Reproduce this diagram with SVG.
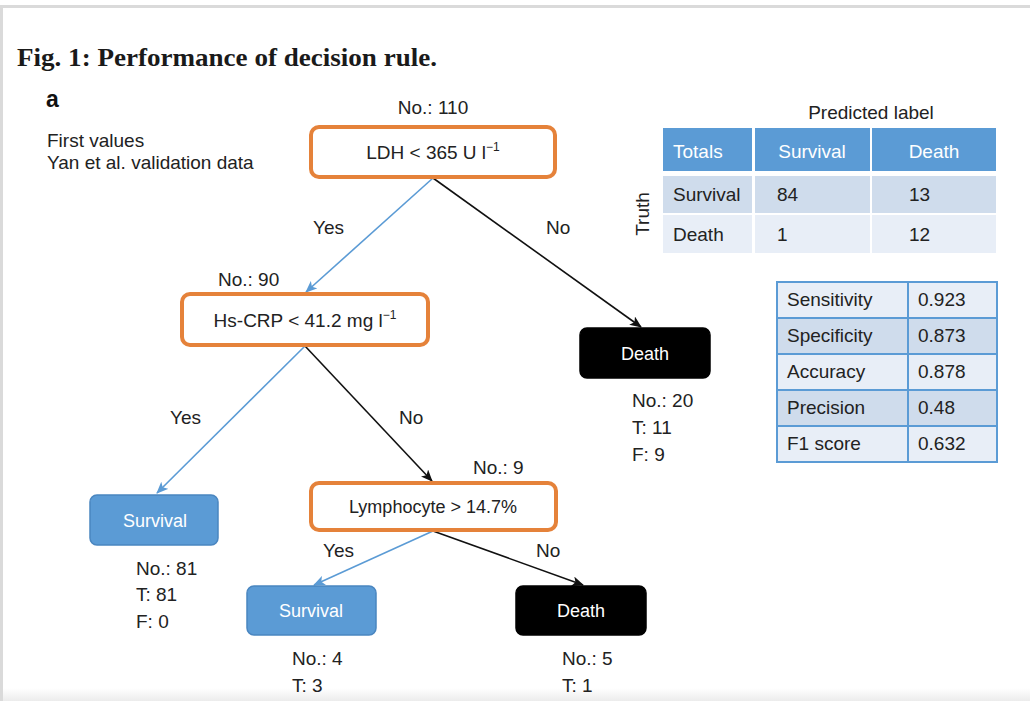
<svg xmlns="http://www.w3.org/2000/svg" width="1030" height="701" viewBox="0 0 1030 701">
  <style>
    text { font-family: "Liberation Sans", Arial, sans-serif; font-size: 19px; fill: #222; }
    .title { font-family: "Liberation Serif", "DejaVu Serif", serif; font-weight: bold; font-size: 26px; fill: #1a1a1a; }
    .panel { font-weight: bold; font-size: 23px; fill: #111; }
    .mid { text-anchor: middle; }
    .light { fill: #fff; }
    .small { font-size: 18px; }
    .rule { fill: #fff; stroke: #E5823A; stroke-width: 4; }
    .surv { fill: #5B9BD5; stroke: #4A86C0; stroke-width: 1.5; }
    .death { fill: #000; stroke: #000; stroke-width: 1.5; }
    .yes { stroke: #5B9BD5; stroke-width: 1.6; fill: none; marker-end: url(#arrBlue); }
    .no { stroke: #111; stroke-width: 1.6; fill: none; marker-end: url(#arrBlack); }
    .hdr { fill: #5B9BD5; }
    .rowA { fill: #CFDCEC; }
    .rowB { fill: #E8EEF7; }
  </style>
  <defs>
    <marker id="arrBlue" viewBox="0 0 12 10" refX="11" refY="5" markerWidth="12" markerHeight="10" markerUnits="userSpaceOnUse" orient="auto">
      <path d="M0,0 L12,5 L0,10 L3,5 Z" fill="#5B9BD5"/>
    </marker>
    <marker id="arrBlack" viewBox="0 0 12 10" refX="11" refY="5" markerWidth="12" markerHeight="10" markerUnits="userSpaceOnUse" orient="auto">
      <path d="M0,0 L12,5 L0,10 L3,5 Z" fill="#111"/>
    </marker>
    <linearGradient id="footFade" x1="0" y1="0" x2="0" y2="1">
      <stop offset="0" stop-color="#ffffff"/>
      <stop offset="1" stop-color="#ececec"/>
    </linearGradient>
  </defs>

  <!-- page frame -->
  <rect x="0" y="0" width="1030" height="701" fill="#fff"/>
  <rect x="0" y="5" width="1030" height="3" fill="#dadada"/>
  <rect x="0" y="5" width="3" height="696" fill="#dadada"/>
  <rect x="3" y="688" width="1027" height="13" fill="url(#footFade)"/>

  <!-- headings -->
  <text class="title" x="17" y="66" textLength="420" lengthAdjust="spacingAndGlyphs">Fig. 1: Performance of decision rule.</text>
  <text class="panel" x="46" y="107">a</text>
  <text x="47" y="147">First values</text>
  <text x="47" y="169">Yan et al. validation data</text>

  <!-- connectors -->
  <g id="connectors">
    <line class="yes" x1="433" y1="178" x2="306" y2="292"/>
    <line class="no" x1="433" y1="178" x2="641" y2="327"/>
    <line class="yes" x1="305" y1="346" x2="157" y2="493"/>
    <line class="no" x1="305" y1="346" x2="432" y2="481"/>
    <line class="yes" x1="433" y1="531" x2="314" y2="585"/>
    <line class="no" x1="433" y1="531" x2="583" y2="585"/>
    <text x="313" y="234">Yes</text>
    <text x="546" y="234">No</text>
    <text x="170" y="424">Yes</text>
    <text x="399" y="424">No</text>
    <text x="323" y="557">Yes</text>
    <text x="536" y="557">No</text>
  </g>

  <!-- decision nodes -->
  <g id="node-ldh">
    <text class="mid" x="433" y="114">No.: 110</text>
    <rect class="rule" x="311" y="127" width="244" height="50" rx="8"/>
    <text class="mid" x="433" y="159">LDH &lt; 365 U l<tspan dy="-8" font-size="12">−1</tspan></text>
  </g>
  <g id="node-hscrp">
    <text x="218" y="286">No.: 90</text>
    <rect class="rule" x="182" y="294" width="246" height="51" rx="8"/>
    <text class="mid" x="305" y="327">Hs-CRP &lt; 41.2 mg l<tspan dy="-8" font-size="12">−1</tspan></text>
  </g>
  <g id="node-lymph">
    <text x="473" y="474">No.: 9</text>
    <rect class="rule" x="311" y="483" width="245" height="47" rx="8"/>
    <text class="mid small" x="433" y="513">Lymphocyte &gt; 14.7%</text>
  </g>

  <!-- leaf nodes -->
  <g id="leaf-death-1">
    <rect class="death" x="580" y="328" width="130" height="50" rx="7"/>
    <text class="mid light small" x="645" y="360">Death</text>
    <text x="632" y="407">No.: 20</text>
    <text x="632" y="434">T: 11</text>
    <text x="632" y="461">F: 9</text>
  </g>
  <g id="leaf-survival-1">
    <rect class="surv" x="90" y="495" width="128" height="50" rx="7"/>
    <text class="mid light small" x="155" y="527">Survival</text>
    <text x="136" y="575">No.: 81</text>
    <text x="136" y="601">T: 81</text>
    <text x="136" y="628">F: 0</text>
  </g>
  <g id="leaf-survival-2">
    <rect class="surv" x="247" y="586" width="129" height="49" rx="7"/>
    <text class="mid light small" x="311" y="617">Survival</text>
    <text x="292" y="665">No.: 4</text>
    <text x="292" y="692">T: 3</text>
  </g>
  <g id="leaf-death-2">
    <rect class="death" x="516" y="586" width="130" height="49" rx="7"/>
    <text class="mid light small" x="581" y="617">Death</text>
    <text x="562" y="665">No.: 5</text>
    <text x="562" y="692">T: 1</text>
  </g>

  <!-- confusion matrix -->
  <g id="confusion-table">
    <text class="mid" x="871" y="119">Predicted label</text>
    <rect class="hdr" x="663" y="128" width="89" height="43"/>
    <rect class="hdr" x="755" y="128" width="115" height="43"/>
    <rect class="hdr" x="872" y="128" width="124" height="43"/>
    <rect class="rowA" x="663" y="176" width="89" height="37"/>
    <rect class="rowA" x="755" y="176" width="115" height="37"/>
    <rect class="rowA" x="872" y="176" width="124" height="37"/>
    <rect class="rowB" x="663" y="215" width="89" height="38"/>
    <rect class="rowB" x="755" y="215" width="115" height="38"/>
    <rect class="rowB" x="872" y="215" width="124" height="38"/>
    <text class="light" x="673" y="158">Totals</text>
    <text class="mid light" x="812" y="158">Survival</text>
    <text class="mid light" x="934" y="158">Death</text>
    <text x="673" y="201">Survival</text>
    <text x="777" y="201">84</text>
    <text x="909" y="201">13</text>
    <text x="673" y="241">Death</text>
    <text x="777" y="241">1</text>
    <text x="909" y="241">12</text>
    <text class="mid" transform="translate(649 214) rotate(-90)">Truth</text>
  </g>

  <!-- performance metrics -->
  <g id="metrics-table">
    <rect class="rowB" x="777" y="282" width="220" height="36"/>
    <rect class="rowA" x="777" y="318" width="220" height="36"/>
    <rect class="rowB" x="777" y="354" width="220" height="36"/>
    <rect class="rowA" x="777" y="390" width="220" height="36"/>
    <rect class="rowB" x="777" y="426" width="220" height="36"/>
    <g stroke="#5B9BD5" stroke-width="2" fill="none">
      <rect x="777" y="282" width="220" height="180"/>
      <line x1="908" y1="282" x2="908" y2="462"/>
      <line x1="777" y1="318" x2="997" y2="318"/>
      <line x1="777" y1="354" x2="997" y2="354"/>
      <line x1="777" y1="390" x2="997" y2="390"/>
      <line x1="777" y1="426" x2="997" y2="426"/>
    </g>
    <text x="787" y="306">Sensitivity</text>
    <text x="918" y="306">0.923</text>
    <text x="787" y="342">Specificity</text>
    <text x="918" y="342">0.873</text>
    <text x="787" y="378">Accuracy</text>
    <text x="918" y="378">0.878</text>
    <text x="787" y="414">Precision</text>
    <text x="918" y="414">0.48</text>
    <text x="787" y="450">F1 score</text>
    <text x="918" y="450">0.632</text>
  </g>
</svg>
